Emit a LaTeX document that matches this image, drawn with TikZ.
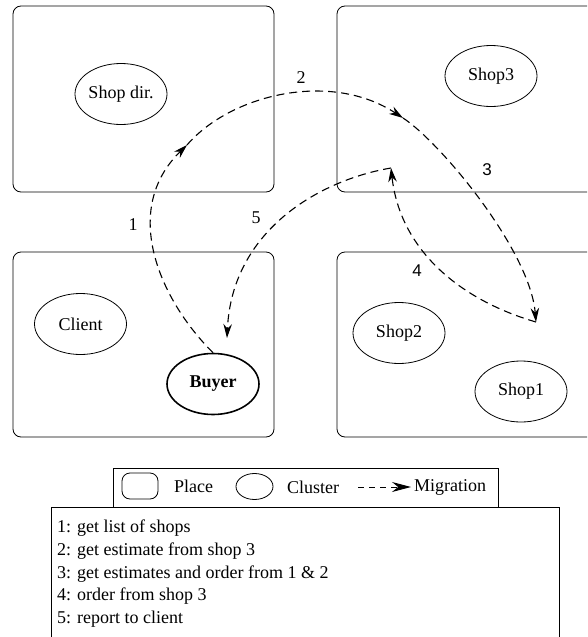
\documentclass[tikz,border=0pt]{standalone}
\usepackage{fontspec}
\setmainfont{Liberation Serif}
\newfontfamily\labelsans{Liberation Sans}
\usetikzlibrary{arrows.meta,shapes.geometric}
\begin{document}
\begin{tikzpicture}[x=1pt,y=-1pt,
  every node/.style={font=\fontsize{18}{22}\selectfont},
  place/.style={draw, rounded corners=8pt, line width=0.8pt, inner sep=0pt},
  cluster/.style={draw, ellipse, line width=0.8pt, minimum width=92pt, minimum height=61pt, inner sep=0pt},
  mig/.style={dash pattern=on 8pt off 5pt, line width=1.1pt, -{Stealth[length=14pt,width=8.5pt]}},
  steplabel/.style={inner sep=0pt},
  listline/.style={anchor=base west, inner sep=0pt}]
\clip (0,0) rectangle (587,637);

% places
\node[place, minimum width=261pt, minimum height=186pt] (ptl) at (143.5,99) {};
\node[place, minimum width=283pt, minimum height=186pt] (ptr) at (478.5,99) {};
\node[place, minimum width=261pt, minimum height=185pt] (pbl) at (143.5,344.5) {};
\node[place, minimum width=283pt, minimum height=185pt] (pbr) at (478.5,344.5) {};

% clusters
\node[cluster] (shopdir) at (121,94) {Shop dir.};
\node[cluster] (shop3) at (491,76) {Shop3};
\node[cluster] (client) at (80.5,324) {Client};
\node[cluster, line width=1.6pt] (buyer) at (213,384) {\bfseries Buyer};
\node[cluster] (shop2) at (399,333) {Shop2};
\node[cluster] (shop1) at (521,391.5) {Shop1};

% migration waypoints
\coordinate (m1) at (187,145);
\coordinate (m2) at (403,118);
\coordinate (m3) at (536,322);
\coordinate (m4) at (391,168);
\coordinate (m5) at (227,338);

% migrations
\draw[mig] (buyer.north) .. controls (160,300) and (120,210) .. (m1);
\draw[mig] (m1) .. controls (230,95) and (330,70) .. (m2);
\draw[mig] (m2) .. controls (440,142) and (530,250) .. (m3);
\draw[mig] (m3) .. controls (460,300) and (400,250) .. (m4);
\draw[mig] (m4) .. controls (320,180) and (232,230) .. (m5);

% step numbers
\node[steplabel] (l1) at (133,225) {1};
\node[steplabel] (l2) at (301,78) {2};
\node[steplabel, font=\labelsans\fontsize{17}{20}\selectfont] (l3) at (487,170) {3};
\node[steplabel, font=\labelsans\fontsize{17}{20}\selectfont] (l4) at (417,271) {4};
\node[steplabel] (l5) at (256,218) {5};

% legend
\draw[line width=0.8pt] (113,468) rectangle (498,507);
\node[place, minimum width=36pt, minimum height=26pt] (lgplace) at (140,486) {};
\node (lgplacetxt) at (193.5,486) {Place};
\node[cluster, minimum width=37pt, minimum height=26pt] (lgcluster) at (254.5,486.5) {};
\node (lgclustertxt) at (313,487) {Cluster};
\coordinate (lga) at (358,487);
\coordinate (lgb) at (411,487);
\draw[dash pattern=on 6pt off 5pt, line width=1pt, -{Stealth[length=19pt,width=10pt]}] (lga) -- (lgb);
\node (lgmigtxt) at (450,487) {Migration};

% steps list
\draw[line width=0.8pt] (51,650) -- (51,507) -- (559,507) -- (559,650);
\node[listline] (s1) at (57,532) {1: get list of shops};
\node[listline] (s2) at (57,555) {2: get estimate from shop 3};
\node[listline] (s3) at (57,578) {3: get estimates and order from 1 \& 2};
\node[listline] (s4) at (57,600) {4: order from shop 3};
\node[listline] (s5) at (57,623) {5: report to client};
\end{tikzpicture}
\end{document}
